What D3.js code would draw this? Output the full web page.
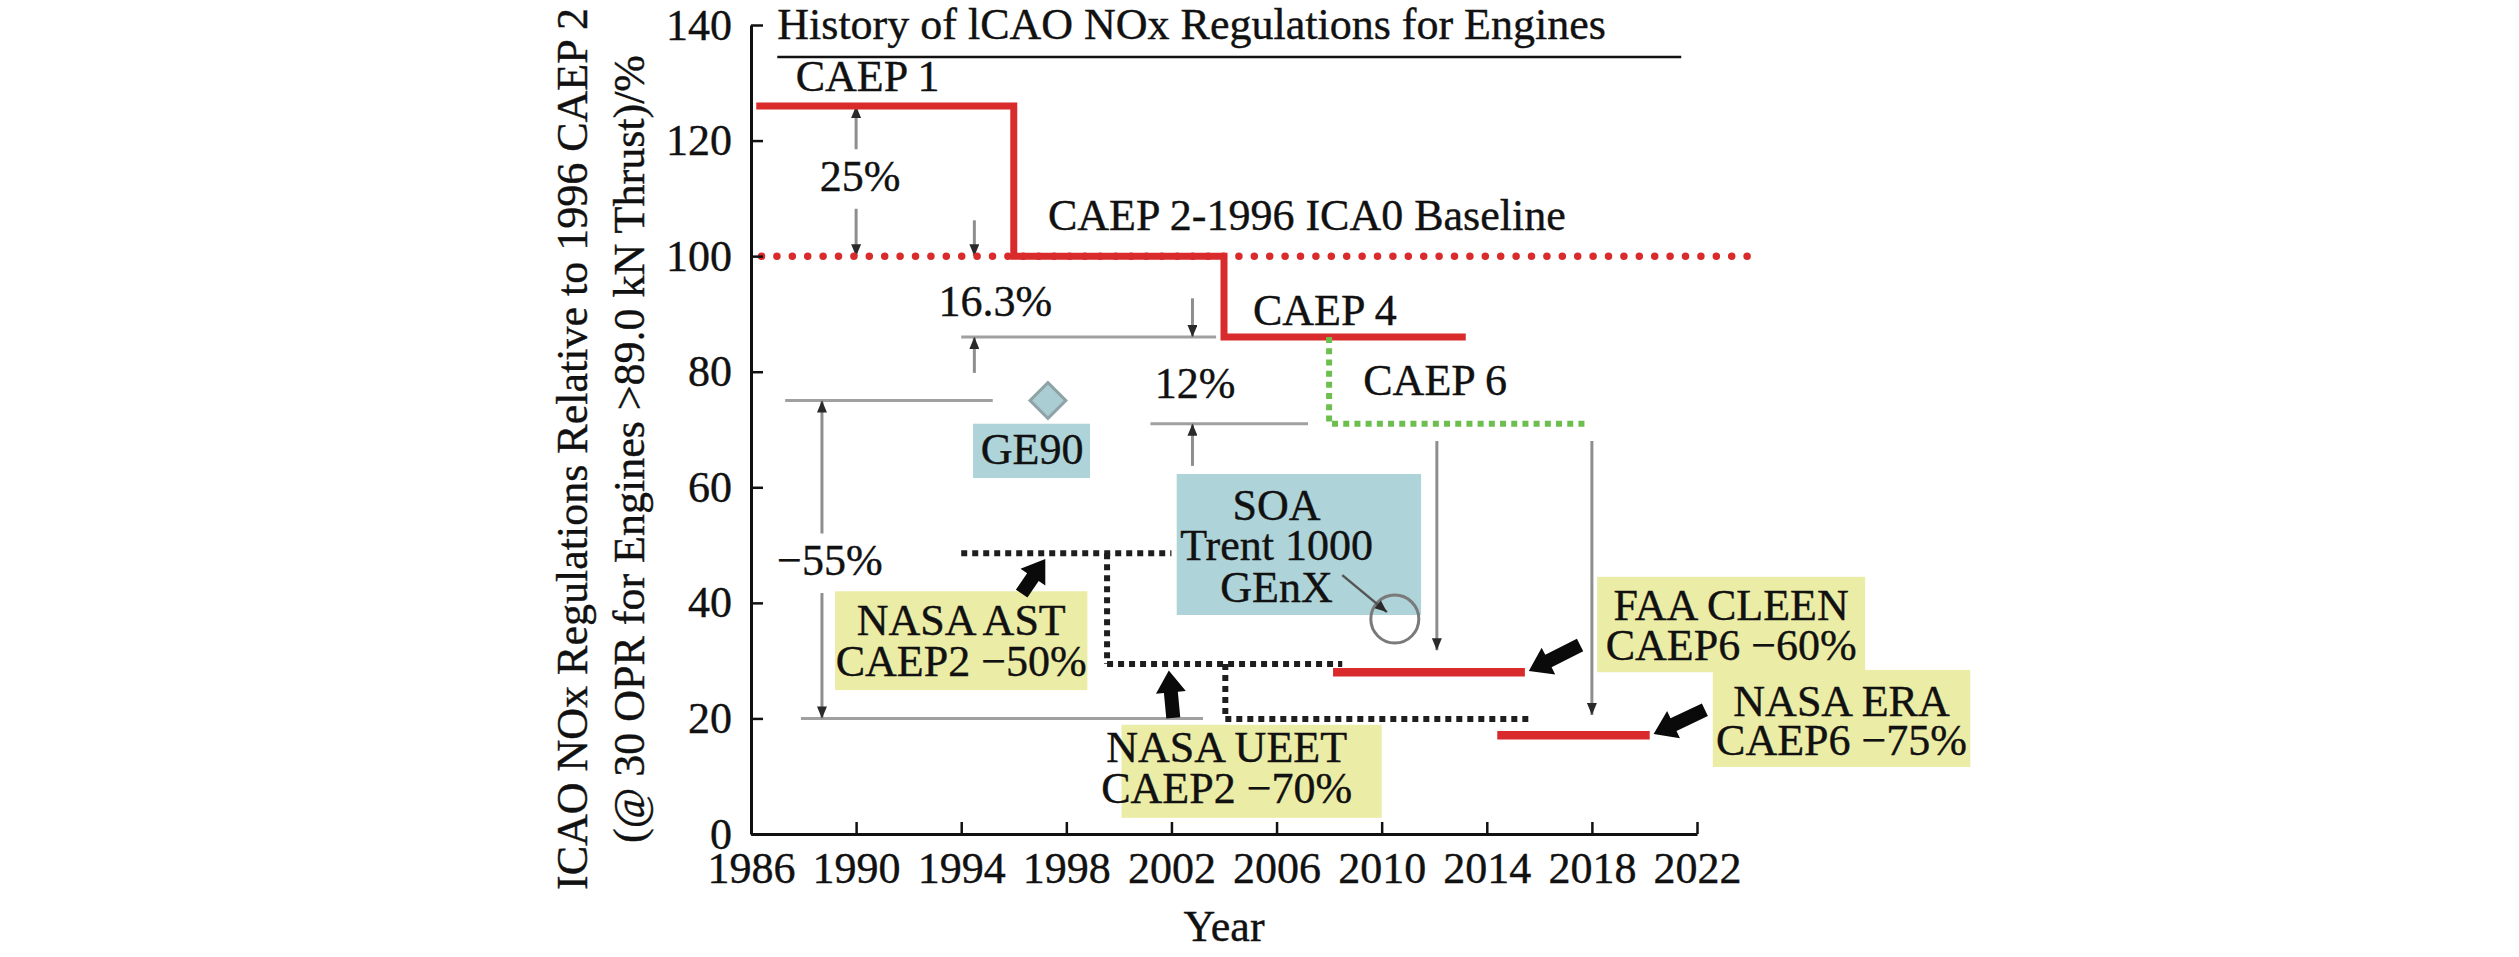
<!DOCTYPE html>
<html lang="en">
<head>
  <meta charset="UTF-8">
  <style>
    body { margin: 0; background: #fff; }
    .chart text {
      font-family: "Liberation Serif", "Times New Roman", serif;
      font-size: 44px;
      fill: #111;
      stroke: #111;
      stroke-width: 0.4px;
    }
  </style>
</head>
<body>
  <svg class="chart"></svg>
  <script src="https://cdnjs.cloudflare.com/ajax/libs/d3/7.8.5/d3.min.js"></script>
  <script>
    // axes
    const xTicks = [1986, 1990, 1994, 1998, 2002, 2006, 2010, 2014, 2018, 2022]
    const yTicks = [0, 20, 40, 60, 80, 100, 120, 140]

    // ICAO regulation steps (CAEP 1 -> CAEP 2 -> CAEP 4)
    const regYears = [1986.2, 1996, 2004, 2013.2]
    const regLevels = [126, 100, 86]
    // 1996 baseline (dotted)
    const baselineYears = [1986.4, 2024]
    const baselineLevel = 100
    // CAEP 6 (green dotted)
    const caep6Years = [2008, 2008, 2017.9]
    const caep6Levels = [86, 71, 71]
    // NASA AST / UEET goals (black dotted)
    const nasaGoalSegments = [
      [[1994, 48.6], [2002, 48.6]],
      [[1999.55, 48.6], [1999.55, 29.4]],
      [[1999.55, 29.4], [2008.5, 29.4]],
      [[2004.05, 29.4], [2004.05, 19.9]],
      [[2004.05, 19.9], [2015.6, 19.9]]
    ]
    // FAA CLEEN and NASA ERA targets (red bars)
    const targetFrom = [2008.15, 2014.4]
    const targetTo = [2015.45, 2020.2]
    const targetLevel = [28, 17.1]

    // grey reference lines: [fromYear, toYear, level]
    const refLines = [
      [1994, 2003.7, 86],
      [2001.2, 2007.2, 71],
      [1987.3, 1995.2, 75],
      [1987.9, 2003.2, 20]
    ]
    // grey dimension arrows: [year, fromLevel, toLevel]
    const dimArrows = [
      [1990, 118.5, 126], [1990, 108.2, 100],
      [1994.5, 106.2, 100], [1994.5, 79.8, 86],
      [2002.8, 92.7, 86], [2002.8, 63.7, 71],
      [1988.7, 52, 75], [1988.7, 41.7, 20],
      [2012.1, 68, 31.8], [2018, 68, 20.6]
    ]
    // GE90 point, SOA circle and its pointer
    const ge90Point = [1997.3, 75]
    const soaPoint = [2010.5, 37.2]
    const soaPointer = [[2008.5, 44.8], [2010.2, 38.4]]

    // label boxes: [x0, x1, top, bottom]
    const engineBoxes = [
      [1994.45, 1998.9, 71.0, 61.6],
      [2002.2, 2011.5, 62.3, 37.9]
    ]
    const programBoxes = [
      [1989.2, 1998.8, 42.0, 24.9],
      [2000.1, 2010.0, 18.9, 2.8],
      [2018.2, 2028.4, 44.5, 28.0],
      [2022.6, 2032.4, 28.4, 11.6]
    ]
    // box texts
    const boxTexts = [
      { x: 1996.7, lines: ['GE90'], levels: [64.1] },
      { x: 2006.0, lines: ['SOA', 'Trent 1000', 'GEnX'], levels: [54.3, 47.4, 40.1] },
      { x: 1994.0, lines: ['NASA AST', 'CAEP2 \u221250%'], levels: [34.4, 27.3] },
      { x: 2004.1, lines: ['NASA UEET', 'CAEP2 \u221270%'], levels: [12.5, 5.4] },
      { x: 2023.3, lines: ['FAA CLEEN', 'CAEP6 \u221260%'], levels: [37.0, 30.1] },
      { x: 2027.5, lines: ['NASA ERA', 'CAEP6 \u221275%'], levels: [20.4, 13.6] }
    ]
    // thick black pointers: [tail, tip]
    const blockArrows = [
      [[1996.3, 41.6], [1997.2, 47.6]],
      [[2002.07, 20.1], [2001.9, 28.3]],
      [[2017.55, 32.7], [2015.6, 28.2]],
      [[2022.3, 21.5], [2020.35, 17.3]]
    ]
    // free annotations
    const noteTexts = ['CAEP 1', '25%', 'CAEP 2-1996 ICA0 Baseline', '16.3%', 'CAEP 4', '12%', 'CAEP 6', '\u221255%']
    const noteYears = [1987.7, 1990.15, 1997.3, 1995.3, 2005.1, 2002.9, 2009.3, 1989.0]
    const noteLevels = [128.5, 111.3, 104.6, 89.7, 88.1, 75.4, 76.0, 44.9]
    const noteCentred = [false, true, false, true, false, true, false, true]

    const titleText = 'History of lCAO NOx Regulations for Engines'
    const titleYear = 1987.0
    const titleLevel = 137.6
    const ruleYears = [1987.0, 2021.4]
    const ruleLevel = 134.45
    const yTitle = ['ICAO NOx Regulations Relative to 1996 CAEP 2', '(@ 30 OPR for Engines >89.0 kN Thrust)/%']
    const xTitle = 'Year'

    const chart = { width: 2519, height: 957 }
    const margin = { top: 25, left: 751 }
    const plot = { width: 946, height: 809 }

    const x = d3.scaleLinear().domain([1986, 2022]).range([0, plot.width])
    const y = d3.scaleLinear().domain([0, 140]).range([plot.height, 0])

    const svg = d3.select('.chart')
      .attr('width', chart.width)
      .attr('height', chart.height)

    const defs = svg.append('defs')
    defs.append('marker')
        .attr('id', 'head')
        .attr('viewBox', '0 0 12 10')
        .attr('refX', 12).attr('refY', 5)
        .attr('markerWidth', 13).attr('markerHeight', 10)
        .attr('markerUnits', 'userSpaceOnUse')
        .attr('orient', 'auto')
      .append('path')
        .attr('d', 'M0,0L12,5L0,10Z')
        .attr('fill', '#2a2a2a')

    const g = svg.append('g')
      .attr('transform', `translate(${margin.left},${margin.top})`)

    const line = d3.line().x(d => x(d[0])).y(d => y(d[1]))

    // boxes first so lines sit above
    g.selectAll('rect.engine')
      .data(engineBoxes)
      .enter().append('rect')
        .attr('class', 'engine')
        .attr('x', d => x(d[0]))
        .attr('y', d => y(d[2]))
        .attr('width', d => x(d[1]) - x(d[0]))
        .attr('height', d => y(d[3]) - y(d[2]))
        .attr('fill', '#aed3d8')

    g.selectAll('rect.program')
      .data(programBoxes)
      .enter().append('rect')
        .attr('class', 'program')
        .attr('x', d => x(d[0]))
        .attr('y', d => y(d[2]))
        .attr('width', d => x(d[1]) - x(d[0]))
        .attr('height', d => y(d[3]) - y(d[2]))
        .attr('fill', '#ebeca6')

    // title and rule
    g.append('text')
      .attr('x', x(titleYear))
      .attr('y', y(titleLevel))
      .text(titleText)
    g.append('path')
      .attr('d', line(ruleYears.map(v => [v, ruleLevel])))
      .attr('stroke', '#111')
      .attr('stroke-width', 2.5)

    // grey reference lines
    g.selectAll('line.ref')
      .data(refLines)
      .enter().append('line')
        .attr('class', 'ref')
        .attr('x1', d => x(d[0])).attr('x2', d => x(d[1]))
        .attr('y1', d => y(d[2])).attr('y2', d => y(d[2]))
        .attr('stroke', '#a0a0a0')
        .attr('stroke-width', 3)

    // grey arrows
    g.selectAll('line.dim')
      .data(dimArrows)
      .enter().append('line')
        .attr('class', 'dim')
        .attr('x1', d => x(d[0])).attr('x2', d => x(d[0]))
        .attr('y1', d => y(d[1])).attr('y2', d => y(d[2]))
        .attr('stroke', '#8e8e8e')
        .attr('stroke-width', 3)
        .attr('marker-end', 'url(#head)')

    // baseline dotted
    g.append('path')
      .attr('d', line(baselineYears.map(v => [v, baselineLevel])))
      .attr('fill', 'none')
      .attr('stroke', '#d92b2b')
      .attr('stroke-width', 7.5)
      .attr('stroke-linecap', 'round')
      .attr('stroke-dasharray', '0 15.4')

    // CAEP steps
    const steps = []
    regLevels.forEach((lv, i) => {
      steps.push([regYears[i], lv])
      steps.push([regYears[i + 1], lv])
    })
    g.append('path')
      .attr('d', line(steps))
      .attr('fill', 'none')
      .attr('stroke', '#d92b2b')
      .attr('stroke-width', 7)

    // CAEP 6
    g.append('path')
      .attr('d', line(caep6Years.map((v, i) => [v, caep6Levels[i]])))
      .attr('fill', 'none')
      .attr('stroke', '#6cbf4f')
      .attr('stroke-width', 6)
      .attr('stroke-dasharray', '6 5.2')

    // NASA goals
    g.selectAll('path.goal')
      .data(nasaGoalSegments)
      .enter().append('path')
        .attr('class', 'goal')
        .attr('d', line)
        .attr('fill', 'none')
        .attr('stroke', '#1e1e1e')
        .attr('stroke-width', 6)
        .attr('stroke-dasharray', '6 5')

    // FAA / ERA targets
    g.selectAll('line.target')
      .data(targetLevel)
      .enter().append('line')
        .attr('class', 'target')
        .attr('x1', (d, i) => x(targetFrom[i]))
        .attr('x2', (d, i) => x(targetTo[i]))
        .attr('y1', d => y(d)).attr('y2', d => y(d))
        .attr('stroke', '#d92b2b')
        .attr('stroke-width', 8.5)

    // GE90 diamond
    g.append('path')
      .attr('d', d3.symbol(d3.symbolSquare, 640)())
      .attr('transform', `translate(${x(ge90Point[0])},${y(ge90Point[1])}) rotate(45)`)
      .attr('fill', '#a9cdd3')
      .attr('stroke', '#8fa3a6')
      .attr('stroke-width', 3)

    // SOA circle and pointer
    g.append('circle')
      .attr('cx', x(soaPoint[0])).attr('cy', y(soaPoint[1]))
      .attr('r', 24)
      .attr('fill', 'none')
      .attr('stroke', '#7a7a7a')
      .attr('stroke-width', 3)
    g.append('path')
      .attr('d', line(soaPointer))
      .attr('stroke', '#555')
      .attr('stroke-width', 2.5)
      .attr('marker-end', 'url(#head)')

    // thick black arrows
    function blockArrow(d) {
      const t = [x(d[0][0]), y(d[0][1])]
      const p = [x(d[1][0]), y(d[1][1])]
      const len = Math.hypot(p[0] - t[0], p[1] - t[1])
      const u = [(p[0] - t[0]) / len, (p[1] - t[1]) / len]
      const n = [-u[1], u[0]]
      const hl = 22, hw = 15, sw = 7
      const b = [p[0] - u[0] * hl, p[1] - u[1] * hl]
      const pts = [
        [t[0] + n[0] * sw, t[1] + n[1] * sw],
        [b[0] + n[0] * sw, b[1] + n[1] * sw],
        [b[0] + n[0] * hw, b[1] + n[1] * hw],
        p,
        [b[0] - n[0] * hw, b[1] - n[1] * hw],
        [b[0] - n[0] * sw, b[1] - n[1] * sw],
        [t[0] - n[0] * sw, t[1] - n[1] * sw]
      ]
      return 'M' + pts.map(q => q.join(',')).join('L') + 'Z'
    }
    g.selectAll('path.block')
      .data(blockArrows)
      .enter().append('path')
        .attr('class', 'block')
        .attr('d', blockArrow)
        .attr('fill', '#0a0a0a')

    // box texts
    boxTexts.forEach(b => {
      g.selectAll(null)
        .data(b.lines)
        .enter().append('text')
          .attr('x', x(b.x))
          .attr('y', (d, i) => y(b.levels[i]))
          .attr('text-anchor', 'middle')
          .text(d => d)
    })

    // annotations
    g.selectAll('text.note')
      .data(noteTexts)
      .enter().append('text')
        .attr('class', 'note')
        .attr('x', (d, i) => x(noteYears[i]))
        .attr('y', (d, i) => y(noteLevels[i]))
        .attr('text-anchor', (d, i) => noteCentred[i] ? 'middle' : 'start')
        .text(d => d)

    // axes
    const xAxis = g.append('g')
      .attr('transform', `translate(0,${plot.height})`)
      .call(d3.axisBottom(x).tickValues(xTicks).tickFormat(d3.format('d'))
        .tickSizeInner(-12).tickSizeOuter(0).tickPadding(18))
    const yAxis = g.append('g')
      .call(d3.axisLeft(y).tickValues(yTicks)
        .tickSizeInner(-12).tickSizeOuter(0).tickPadding(19))

    ;[xAxis, yAxis].forEach(a => {
      a.attr('font-size', null).attr('font-family', null)
      a.select('.domain').attr('stroke', '#111').attr('stroke-width', 3)
      a.selectAll('.tick line').attr('stroke', '#111').attr('stroke-width', 2.5)
      a.selectAll('.tick text').attr('fill', '#111')
    })

    // axis titles
    svg.selectAll('text.ytitle')
      .data(yTitle)
      .enter().append('text')
        .attr('class', 'ytitle')
        .attr('transform', (d, i) => `translate(${587 + i * 57},449) rotate(-90)`)
        .attr('text-anchor', 'middle')
        .text(d => d)

    svg.append('text')
      .attr('x', margin.left + x(2004))
      .attr('y', 941)
      .attr('text-anchor', 'middle')
      .text(xTitle)
  </script>
</body>
</html>
